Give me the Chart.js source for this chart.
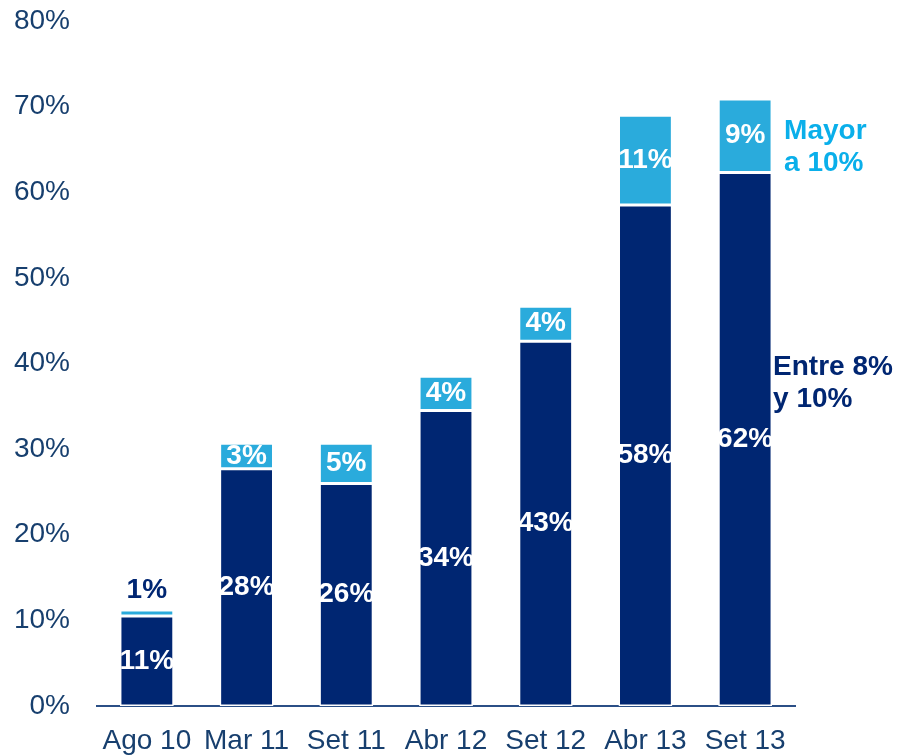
<!DOCTYPE html>
<html>
<head>
<meta charset="utf-8">
<script src="https://cdn.jsdelivr.net/npm/chart.js@4/dist/chart.umd.min.js"></script>
<style>
  html, body { margin: 0; padding: 0; background: #fff; }
  #wrap { width: 898px; height: 755px; position: relative; }
</style>
</head>
<body>
<div id="wrap"><canvas id="grafico"></canvas></div>
<script>
// datos
const categorias = ['Ago 10', 'Mar 11', 'Set 11', 'Abr 12', 'Set 12', 'Abr 13', 'Set 13'];
const entre8y10 = [10.5, 27.7, 26.0, 34.5, 42.6, 58.5, 62.3];
const mayor10 = [0.7, 3.0, 4.7, 4.0, 4.1, 10.5, 8.6];
const etiquetasEntre = ['11%', '28%', '26%', '34%', '43%', '58%', '62%'];
const etiquetasMayor = ['1%', '3%', '5%', '4%', '4%', '11%', '9%'];
const ticksY = [0, 10, 20, 30, 40, 50, 60, 70, 80];

const AZUL_OSCURO = '#002672';
const AZUL_CLARO = '#2AABDC';
const TEXTO_EJE = '#173F6E';
const FUENTE = "'Liberation Sans', Arial, sans-serif";

// etiquetas dentro de las barras + textos de leyenda
const etiquetasPlugin = {
    id: 'etiquetas',
    afterDatasetsDraw(chart) {
        const ctx = chart.ctx;
        ctx.save();
        ctx.font = 'bold 28px ' + FUENTE;
        ctx.textAlign = 'center';
        ctx.textBaseline = 'middle';

        const metaOsc = chart.getDatasetMeta(0);
        const metaCla = chart.getDatasetMeta(1);

        metaOsc.data.forEach((bar, i) => {
            ctx.fillStyle = '#fff';
            ctx.fillText(etiquetasEntre[i], bar.x, (bar.y + bar.base) / 2);
        });

        metaCla.data.forEach((bar, i) => {
            const alto = bar.base - bar.y;
            if (alto < 20) {
                ctx.fillStyle = AZUL_OSCURO;
                ctx.fillText(etiquetasMayor[i], bar.x, bar.y - 20);
            } else {
                ctx.fillStyle = '#fff';
                ctx.fillText(etiquetasMayor[i], bar.x, (bar.y + bar.base) / 2);
            }
        });

        // leyenda a la derecha de la última barra
        const ultima = metaCla.data[metaCla.data.length - 1];
        const xLeyenda = ultima.x + ultima.width / 2 + 12;
        ctx.textAlign = 'left';
        ctx.fillStyle = '#0AAFEA';
        ctx.fillText('Mayor', xLeyenda, 131);
        ctx.fillText('a 10%', xLeyenda, 163);

        ctx.fillStyle = AZUL_OSCURO;
        ctx.fillText('Entre 8%', xLeyenda - 11, 367);
        ctx.fillText('y 10%', xLeyenda - 11, 399);
        ctx.restore();
    }
};

new Chart(document.getElementById('grafico'), {
    type: 'bar',
    data: {
        labels: categorias,
        datasets: [
            {
                label: 'Entre 8% y 10%',
                data: entre8y10,
                backgroundColor: AZUL_OSCURO,
                borderColor: '#fff',
                borderWidth: 1.5,
                borderSkipped: false,
                barPercentage: 0.54,
                categoryPercentage: 1
            },
            {
                label: 'Mayor a 10%',
                data: mayor10,
                backgroundColor: AZUL_CLARO,
                borderColor: '#fff',
                borderWidth: 1.5,
                borderSkipped: false,
                barPercentage: 0.54,
                categoryPercentage: 1
            }
        ]
    },
    options: {
        responsive: true,
        maintainAspectRatio: false,
        animation: false,
        layout: { padding: { left: 0, right: 103, top: 21, bottom: 0 } },
        plugins: {
            legend: { display: false },
            tooltip: { enabled: false }
        },
        scales: {
            x: {
                stacked: true,
                grid: { display: false, drawTicks: false },
                border: { display: true, color: '#2B4F86', width: 2 },
                ticks: {
                    color: TEXTO_EJE,
                    font: { family: FUENTE, size: 28 },
                    padding: 18,
                    maxRotation: 0,
                    autoSkip: false
                },
                afterFit: s => { s.height = 49; }
            },
            y: {
                stacked: true,
                min: 0,
                max: 80,
                grid: { display: false, drawTicks: false },
                border: { display: false },
                afterBuildTicks: s => { s.ticks = ticksY.map(v => ({ value: v })); },
                ticks: {
                    color: TEXTO_EJE,
                    font: { family: FUENTE, size: 28 },
                    padding: 27,
                    callback: v => v + '%'
                },
                afterFit: s => {
                    s.width = 97;
                    s.paddingTop = 0;
                    s.paddingBottom = 0;
                }
            }
        }
    },
    plugins: [etiquetasPlugin]
});
</script>
</body>
</html>
